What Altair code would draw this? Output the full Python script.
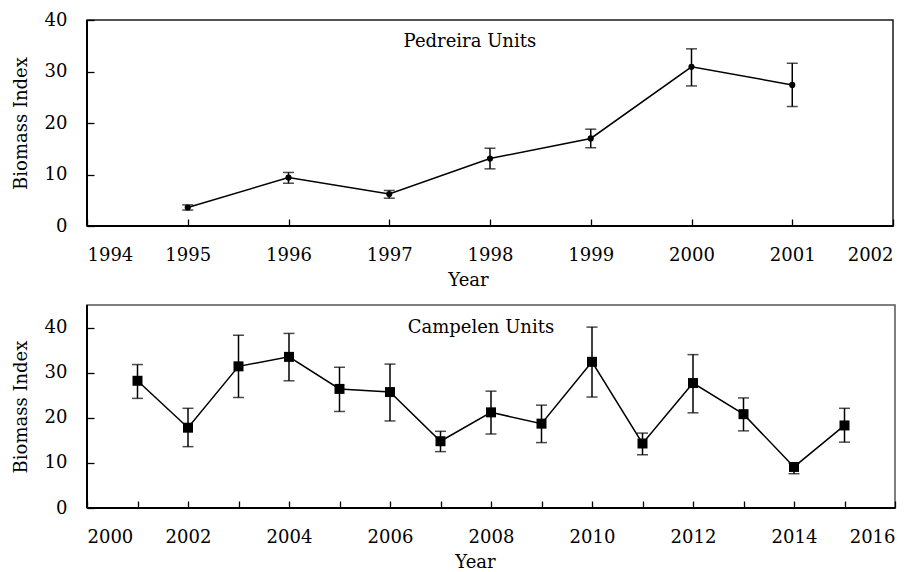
import altair as alt
import pandas as pd

# ---- Pedreira Units (top panel) ----
p_years = [1995, 1996, 1997, 1998, 1999, 2000, 2001]
p_mean = [3.6, 9.4, 6.2, 13.1, 17.0, 30.9, 27.4]
p_low = [3.1, 8.3, 5.4, 11.1, 15.2, 27.2, 23.2]
p_high = [4.1, 10.4, 6.9, 15.1, 18.8, 34.4, 31.6]
p_xticks = [1994, 1995, 1996, 1997, 1998, 1999, 2000, 2001, 2002]
p_yticks = [0, 10, 20, 30, 40]

# ---- Campelen Units (bottom panel) ----
c_years = [2001, 2002, 2003, 2004, 2005, 2006, 2007, 2008, 2009, 2010,
           2011, 2012, 2013, 2014, 2015]
c_mean = [28.2, 17.8, 31.4, 33.5, 26.4, 25.7, 14.8, 21.2, 18.7, 32.4,
          14.3, 27.7, 20.8, 9.1, 18.3]
c_low = [24.3, 13.6, 24.5, 28.2, 21.4, 19.3, 12.5, 16.4, 14.5, 24.6,
         11.8, 21.1, 17.1, 7.6, 14.6]
c_high = [31.8, 22.1, 38.3, 38.7, 31.2, 31.9, 17.0, 25.9, 22.8, 40.1,
          16.6, 34.0, 24.4, 9.9, 22.1]
c_xticks = list(range(2000, 2017))
c_yticks = [0, 10, 20, 30, 40]

FONT = "DejaVu Serif"
FS = 18


def panel(years, mean, low, high, xdom, ydom, xticks, yticks, shape, msize,
          label, label_x, label_y, width, height, title_x, even_only, frame):
    df = pd.DataFrame({"year": years, "val": mean, "low": low, "high": high})

    xaxis_kw = dict(values=xticks, format="d", offset=-7, tickSize=7,
                    tickWidth=1.3, tickColor="black", domain=False, grid=False,
                    labelPadding=20, title="Year", titleX=title_x,
                    titlePadding=7)
    if even_only:
        xaxis_kw["labelExpr"] = "datum.value % 2 === 0 ? datum.label : ''"
    xaxis = alt.Axis(**xaxis_kw)
    yaxis = alt.Axis(values=yticks, offset=-7, tickSize=7, tickWidth=1.3,
                     tickColor="black", domain=False, grid=False,
                     labelPadding=20, title="Biomass Index", titlePadding=14)

    xs = alt.Scale(domain=xdom, nice=False, zero=False)
    ys = alt.Scale(domain=ydom, nice=False)

    def X(f):
        return alt.X(f + ":Q", scale=xs, axis=xaxis)

    def Y(f):
        return alt.Y(f + ":Q", scale=ys, axis=yaxis)

    base = alt.Chart(df)
    line = base.mark_line(color="black", strokeWidth=1.5).encode(x=X("year"), y=Y("val"))
    err = base.mark_rule(color="black", strokeWidth=1.5).encode(
        x=X("year"), y=Y("low"), y2="high:Q")
    cap_lo = base.mark_tick(orient="horizontal", color="black", size=11,
                            thickness=1.5).encode(x=X("year"), y=Y("low"))
    cap_hi = base.mark_tick(orient="horizontal", color="black", size=11,
                            thickness=1.5).encode(x=X("year"), y=Y("high"))
    pts = base.mark_point(shape=shape, filled=True, color="black", size=msize,
                          opacity=1).encode(x=X("year"), y=Y("val"))

    lab = alt.Chart(pd.DataFrame({"year": [label_x], "val": [label_y],
                                  "t": [label]})).mark_text(
        font=FONT, fontSize=FS, color="black", align="center",
        baseline="middle").encode(x=X("year"), y=Y("val"), text="t:N")

    axis_bottom = alt.Chart(pd.DataFrame({"val": [ydom[0]]})).mark_rule(
        color="black", strokeWidth=2).encode(y=Y("val"))
    axis_left = alt.Chart(pd.DataFrame({"year": [xdom[0]]})).mark_rule(
        color="black", strokeWidth=2).encode(x=X("year"))

    return alt.layer(err, cap_lo, cap_hi, line, pts, lab, axis_bottom,
                     axis_left).properties(
        width=width, height=height,
        view=alt.ViewConfig(stroke=frame, strokeWidth=1.5))


top = panel(p_years, p_mean, p_low, p_high, [1994, 2002], [0, 40],
            p_xticks, p_yticks, "circle", 38, "Pedreira Units", 1997.8, 35.8,
            806, 206, 381, False, "#1a1a1a")
bottom = panel(c_years, c_mean, c_low, c_high, [2000, 2016], [0, 45],
               c_xticks, c_yticks, "square", 100, "Campelen Units", 2007.8, 40,
               808, 203, 388, True, "#555555")

chart = alt.vconcat(top, bottom, spacing=13).properties(
    padding={"left": 3, "top": 2, "right": 0, "bottom": 0}
).configure_axis(
    labelFont=FONT, labelFontSize=FS, labelColor="black",
    titleFont=FONT, titleFontSize=FS, titleColor="black",
    titleFontWeight="normal"
).configure_view(stroke="#333333", strokeWidth=1.5)

chart.save("out.html", embed_options={"renderer": "svg", "actions": False})
